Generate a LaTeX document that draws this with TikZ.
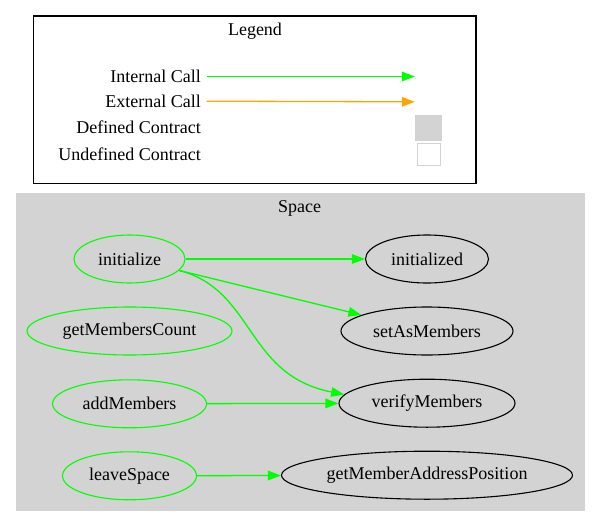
\documentclass[tikz,border=0pt]{standalone}
\usepackage{fontspec}
\setmainfont{Liberation Serif}
\usetikzlibrary{arrows.meta,shapes.geometric}
\definecolor{callgreen}{RGB}{0,255,0}
\definecolor{extorange}{RGB}{255,165,0}
\definecolor{clustergray}{RGB}{211,211,211}
\tikzset{
 fn/.style={ellipse,draw=callgreen,line width=1.1pt,minimum height=48pt,inner sep=0pt},
 ctr/.style={ellipse,draw=black,line width=1.1pt,minimum height=48pt,inner sep=0pt},
 call/.style={-{Triangle[length=13pt,width=9.5pt]},draw=callgreen,line width=1.3pt},
 extcall/.style={-{Triangle[length=13pt,width=9.5pt]},draw=extorange,line width=1.3pt},
 lbl/.style={anchor=east,inner sep=0pt}
}
\begin{document}
\begin{tikzpicture}[x=1pt,y=-1pt,font=\fontsize{18}{21}\selectfont]
 \useasboundingbox (0,0) rectangle (600,525);
 %
 % legend
 \draw[line width=1.1pt] (33.5,16) rectangle (476,183.5);
 \node (legend) at (255,31) {Legend};
 \node[lbl] (internal) at (201,76.5) {Internal Call};
 \node[lbl] (external) at (201,101.5) {External Call};
 \node[lbl] (defined) at (201,127.6) {Defined Contract};
 \node[lbl] (undefined) at (201,153.8) {Undefined Contract};
 \coordinate (intS) at (206.7,76.5);
 \coordinate (intE) at (414.8,76.5);
 \coordinate (extS) at (206.7,101.2);
 \coordinate (extE) at (414.8,101.8);
 \draw[call] (intS) -- (intE);
 \draw[extcall] (extS) -- (extE);
 \node[fill=clustergray,minimum width=26.7pt,minimum height=26pt,inner sep=0pt] (defbox) at (428.8,128) {};
 \node[draw=clustergray,fill=white,line width=1.1pt,minimum width=22.7pt,minimum height=22.2pt,inner sep=0pt] (undefbox) at (428.8,154.5) {};
 %
 % cluster
 \fill[clustergray] (15.5,192.5) rectangle (584.5,511);
 \node (space) at (299.5,208.4) {Space};
 %
 \node[fn,minimum width=111pt] (initialize) at (129.5,259) {initialize};
 \node[fn,minimum width=205pt] (getMembersCount) at (129.5,331) {getMembersCount};
 \node[fn,minimum width=154pt] (addMembers) at (129.5,403.8) {addMembers};
 \node[fn,minimum width=134pt] (leaveSpace) at (129.5,475.8) {leaveSpace};
 %
 \node[ctr,minimum width=123pt] (initialized) at (427,259) {initialized};
 \node[ctr,minimum width=172pt] (setAsMembers) at (427,331) {setAsMembers};
 \node[ctr,minimum width=176pt] (verifyMembers) at (427,403.2) {verifyMembers};
 \node[ctr,minimum width=291pt] (getMemberAddressPosition) at (427,475.2) {getMemberAddressPosition};
 %
 \draw[call] (initialize) -- (initialized);
 \draw[call] (initialize.-13) -- (setAsMembers);
 \draw[call] (initialize.-13) .. controls (255,290) and (245,375) .. (verifyMembers.174);
 \draw[call] (addMembers) -- (verifyMembers);
 \draw[call] (leaveSpace) -- (getMemberAddressPosition);
\end{tikzpicture}
\end{document}
